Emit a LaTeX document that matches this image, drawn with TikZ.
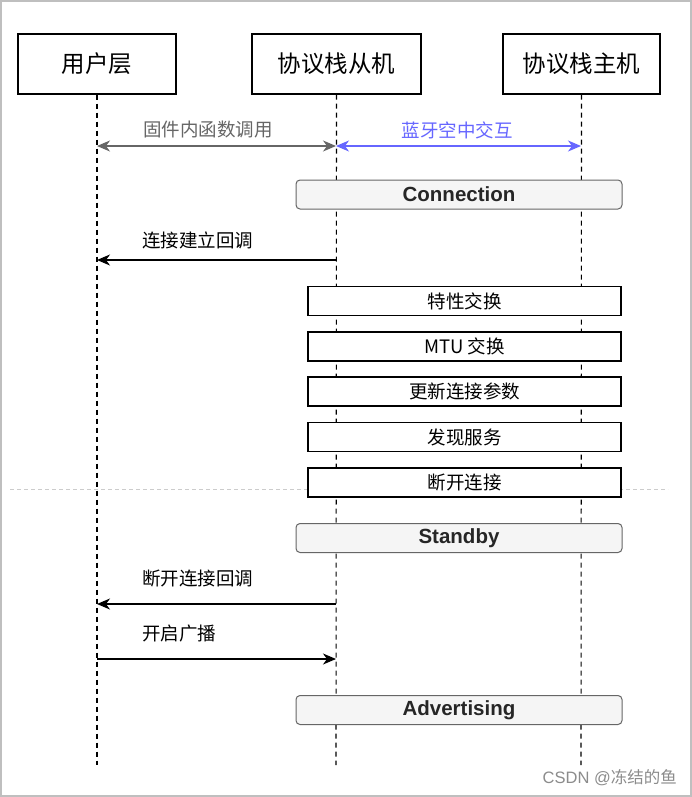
\documentclass[tikz,border=0pt]{standalone}
\usepackage{fontspec}
\setmainfont{Liberation Sans}
\newfontfamily\cjk{Noto Sans CJK SC}
\usetikzlibrary{arrows.meta}
\definecolor{bluearr}{HTML}{6666FF}
\definecolor{grayarr}{HTML}{666666}
\definecolor{boxfill}{HTML}{F5F5F5}
\begin{document}
\begin{tikzpicture}[x=1pt,y=-1pt,
  actor/.style={draw=black,line width=1.1pt,minimum height=60pt,inner sep=0pt,font=\cjk\fontsize{23.5}{25}\selectfont},
  life/.style={dashed,dash pattern=on 5pt off 4pt,line width=1.1pt},
  statebox/.style={draw=grayarr,fill=boxfill,rounded corners=4pt,line width=1pt,minimum width=326pt,minimum height=29pt,inner sep=0pt,font=\bfseries\fontsize{20.5}{22}\selectfont,text=black!85},
  stepbox/.style={draw=black,fill=white,line width=1.1pt,minimum width=313pt,minimum height=29pt,inner sep=0pt,font=\cjk\fontsize{18.5}{20}\selectfont},
  lbl/.style={font=\cjk\fontsize{18.5}{20}\selectfont,inner sep=0pt},
  tip/.style={-{Stealth[length=13pt,width=11pt,inset=4pt]}},
  tips/.style={{Stealth[length=13pt,width=11pt,inset=4pt]}-{Stealth[length=13pt,width=11pt,inset=4pt]}}
]
\useasboundingbox (0,0) rectangle (692,797);
\fill[white] (0,0) rectangle (692,797);
\draw[black!25,line width=2pt] (1,1) rectangle (691,796);

% separator
\draw[black!20,dashed,dash pattern=on 4pt off 3pt,line width=0.8pt] (10,489) coordinate (sepl) -- (668,489) coordinate (sepr);

% actors
\node[actor,minimum width=158pt] (u) at (97,64) {用户层};
\node[actor,minimum width=169pt] (s) at (336.5,64) {协议栈从机};
\node[actor,minimum width=157pt] (m) at (581.5,64) {协议栈主机};

\coordinate (ue) at (97,765);
\coordinate (se) at (336,765);
\coordinate (me) at (581,765);
\draw[life] (u.south) -- (ue);
\draw[life] (s.south) -- (se);
\draw[life] (m.south) -- (me);

% top interaction arrows
\coordinate (u1) at (97,146);
\coordinate (s1) at (336,146);
\coordinate (m1) at (581,146);
\draw[tips,grayarr,line width=1.1pt] (u1) -- (s1);
\draw[tips,bluearr,line width=1.1pt] (s1) -- (m1);
\node[lbl,text=grayarr] (l1) at (208,130) {固件内函数调用};
\node[lbl,text=bluearr] (l2) at (457,130) {蓝牙空中交互};

% Connection
\node[statebox] (conn) at (459,194.5) {Connection};

\coordinate (u2) at (97,260);
\coordinate (s2) at (336,260);
\draw[tip,line width=1.1pt] (s2) -- (u2);
\node[lbl,anchor=west] (l3) at (142,240) {连接建立回调};

% step boxes
\node[stepbox] (b1) at (464.5,301) {特性交换};
\node[stepbox] (b2) at (464.5,346.5) {MTU {\cjk 交换}};
\node[stepbox] (b3) at (464.5,391.5) {更新连接参数};
\node[stepbox] (b4) at (464.5,437) {发现服务};
\node[stepbox] (b5) at (464.5,482.5) {断开连接};

% Standby
\node[statebox] (stby) at (459,538) {Standby};

\coordinate (u3) at (97,604);
\coordinate (s3) at (336,604);
\draw[tip,line width=1.1pt] (s3) -- (u3);
\node[lbl,anchor=west] (l4) at (142,578) {断开连接回调};

\coordinate (u4) at (97,659);
\coordinate (s4) at (336,659);
\draw[tip,line width=1.1pt] (u4) -- (s4);
\node[lbl,anchor=west] (l5) at (142,634) {开启广播};

% Advertising
\node[statebox] (adv) at (459,710) {Advertising};

% watermark
\node[anchor=east,inner sep=0pt,text=black!45,font=\fontsize{16.5}{18}\selectfont] (wm) at (677,778) {CSDN @{\cjk 冻结的鱼}};
\end{tikzpicture}
\end{document}
